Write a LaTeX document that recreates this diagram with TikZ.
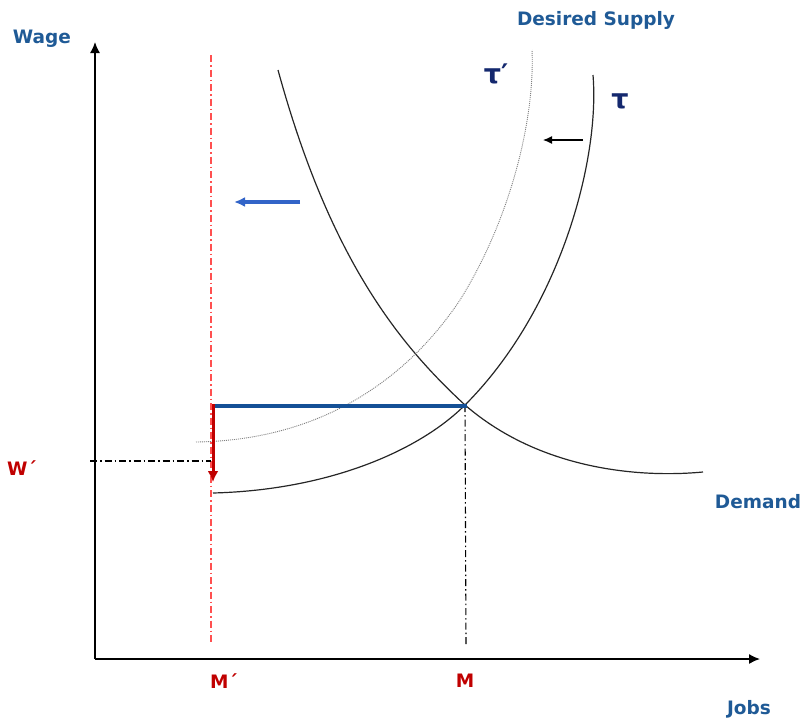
\documentclass[tikz,border=0pt]{standalone}
\usepackage{fontspec}
\setmainfont{DejaVu Sans}
\usetikzlibrary{arrows.meta}
\definecolor{labelblue}{RGB}{31,90,150}
\definecolor{taublue}{RGB}{20,40,110}
\definecolor{darkred}{RGB}{192,0,0}
\definecolor{lightred}{RGB}{255,80,80}
\definecolor{shiftblue}{RGB}{50,100,200}
\definecolor{wageblue}{RGB}{20,80,150}
\begin{document}
\begin{tikzpicture}[x=1pt,y=-1pt,
  lbl/.style={font=\bfseries\fontsize{18.5}{20}\selectfont,text=labelblue,inner sep=0pt},
  tick/.style={font=\bfseries\fontsize{18.5}{20}\selectfont,text=darkred,inner sep=0pt},
  taulbl/.style={font=\bfseries\fontsize{27}{29}\selectfont,text=taublue,inner sep=0pt},
  curve/.style={line width=1.2pt,black!85},
  guide/.style={line width=1.1pt,dash pattern=on 7pt off 3pt on 1.5pt off 3pt}]
\useasboundingbox (0,0) rectangle (803,720);
% axes
\coordinate (O) at (95,659);
\coordinate (ytop) at (95,42);
\coordinate (xend) at (760,659);
\draw [line width=1.5pt,-{Latex[length=11pt,width=10pt]}] (O)--(ytop);
\draw [line width=1.5pt,-{Latex[length=11pt,width=10pt]}] (O)--(xend);
% labels
\node [lbl] (wage) at (42,39) {Wage};
\node [lbl] (jobs) at (749,709) {Jobs};
\node [lbl] (desired) at (596,20) {Desired Supply};
\node [lbl] (demand) at (758,502) {Demand};
\node [taulbl] (tauprime) at (496,74) {τ′};
\node [taulbl] (tau) at (620,101) {τ};
\node [tick] (wlbl) at (22,468) {W´};
\node [tick] (mprime) at (224,681) {M´};
\node [tick] (mlbl) at (465,681) {M};
% demand and supply curves
\coordinate (E) at (465,405);
\draw [curve] (278,70) .. controls (330,260) and (400,345) .. (E)
  .. controls (540,470) and (640,478) .. (703,472);
\draw [curve] (213,493) .. controls (330,490) and (420,450) .. (E)
  .. controls (560,310) and (600,160) .. (593,75);
\draw [line width=0.9pt,gray,dash pattern=on 1pt off 1pt] (196,442) .. controls (340,440) and (420,360) .. (460,300)
  .. controls (510,220) and (535,120) .. (532,50);
% guides
\coordinate (mtop) at (211,55);
\coordinate (mbot) at (211,645);
\draw [guide,lightred] (mtop)--(mbot);
\coordinate (wleft) at (90,461);
\coordinate (wright) at (211,461);
\draw [guide] (wleft)--(wright);
\coordinate (Ebot) at (466,645);
\draw [guide] (E)--(Ebot);
% wage level and shifts
\coordinate (wstart) at (214,406);
\coordinate (wend) at (467,406);
\draw [line width=4pt,wageblue] (wstart)--(wend);
\coordinate (drop) at (213,482);
\draw [line width=3pt,darkred,-{Latex[length=11pt,width=11pt]}] (213,404)--(drop);
\coordinate (bfrom) at (300,202);
\coordinate (bto) at (234,202);
\draw [line width=3.2pt,shiftblue,-{Latex[length=11pt,width=10pt]}] (bfrom)--(bto);
\coordinate (sfrom) at (583,140);
\coordinate (sto) at (543,140);
\draw [line width=1.2pt,-{Latex[length=9pt,width=8pt]}] (sfrom)--(sto);
\end{tikzpicture}
\end{document}
